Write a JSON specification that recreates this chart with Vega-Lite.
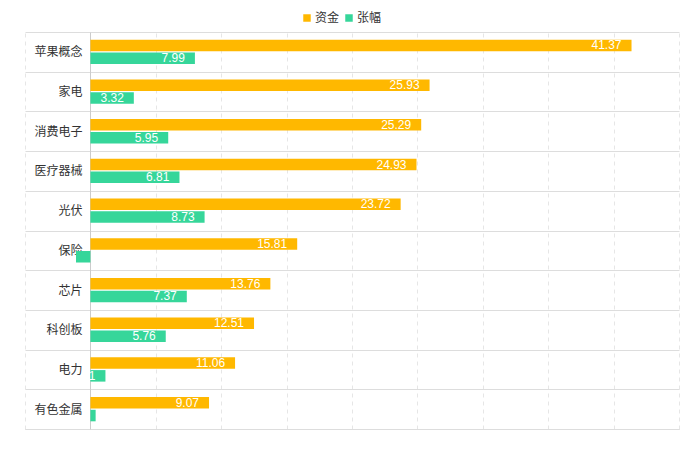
{
  "$schema": "https://vega.github.io/schema/vega-lite/v6.json",
  "width": 654,
  "height": 397,
  "autosize": {"type": "none"},
  "padding": {"left": 25, "top": 32, "right": 4, "bottom": 28},
  "background": "#ffffff",
  "config": {
    "view": {"stroke": null},
    "font": "Noto Sans CJK SC"
  },
  "data": {
    "values": [
      {"category": "苹果概念", "series": "资金", "value": 41.37, "label": "41.37"},
      {"category": "苹果概念", "series": "张幅", "value": 7.99, "label": "7.99"},
      {"category": "家电", "series": "资金", "value": 25.93, "label": "25.93"},
      {"category": "家电", "series": "张幅", "value": 3.32, "label": "3.32"},
      {"category": "消费电子", "series": "资金", "value": 25.29, "label": "25.29"},
      {"category": "消费电子", "series": "张幅", "value": 5.95, "label": "5.95"},
      {"category": "医疗器械", "series": "资金", "value": 24.93, "label": "24.93"},
      {"category": "医疗器械", "series": "张幅", "value": 6.81, "label": "6.81"},
      {"category": "光伏", "series": "资金", "value": 23.72, "label": "23.72"},
      {"category": "光伏", "series": "张幅", "value": 8.73, "label": "8.73"},
      {"category": "保险", "series": "资金", "value": 15.81, "label": "15.81"},
      {"category": "保险", "series": "张幅", "value": -1.1, "label": ""},
      {"category": "芯片", "series": "资金", "value": 13.76, "label": "13.76"},
      {"category": "芯片", "series": "张幅", "value": 7.37, "label": "7.37"},
      {"category": "科创板", "series": "资金", "value": 12.51, "label": "12.51"},
      {"category": "科创板", "series": "张幅", "value": 5.76, "label": "5.76"},
      {"category": "电力", "series": "资金", "value": 11.06, "label": "11.06"},
      {"category": "电力", "series": "张幅", "value": 1.15, "label": "1"},
      {"category": "有色金属", "series": "资金", "value": 9.07, "label": "9.07"},
      {"category": "有色金属", "series": "张幅", "value": 0.4, "label": ""}
    ]
  },
  "encoding": {
    "y": {
      "field": "category",
      "type": "nominal",
      "sort": null,
      "scale": {"paddingInner": 0, "paddingOuter": 0},
      "axis": {
        "title": null,
        "ticks": false,
        "tickBand": "extent",
        "labelPadding": 8,
        "labelFontSize": 12,
        "labelColor": "#333333",
        "domainColor": "#cccccc",
        "grid": true,
        "gridColor": "#dddddd",
        "offset": -65
      }
    },
    "yOffset": {
      "field": "series",
      "type": "nominal",
      "sort": ["资金", "张幅"],
      "scale": {"paddingInner": 0.1, "paddingOuter": 0.6}
    },
    "x": {
      "field": "value",
      "type": "quantitative",
      "scale": {"domain": [-5, 45], "nice": false, "zero": false},
      "axis": {
        "title": null,
        "labels": false,
        "ticks": false,
        "values": [-5, 0, 5, 10, 15, 20, 25, 30, 35, 40, 45],
        "grid": true,
        "gridDash": [4, 4],
        "gridColor": "#e6e6e6",
        "domainColor": "#dddddd"
      }
    }
  },
  "layer": [
    {
      "mark": {"type": "bar"},
      "encoding": {
        "color": {
          "field": "series",
          "type": "nominal",
          "scale": {"domain": ["资金", "张幅"], "range": ["#FFB800", "#36D69A"]},
          "legend": {
            "title": null,
            "orient": "none",
            "legendX": 276,
            "legendY": -20,
            "direction": "horizontal",
            "symbolType": "square",
            "symbolSize": 56,
            "symbolStrokeWidth": 0,
            "labelFontSize": 12,
            "labelColor": "#333333",
            "labelOffset": 2,
            "columnPadding": 3
          }
        }
      }
    },
    {
      "mark": {"type": "text", "align": "right", "baseline": "middle", "dx": -10, "color": "#ffffff", "fontSize": 12, "font": "Liberation Sans"},
      "encoding": {
        "text": {"field": "label"}
      }
    }
  ]
}
